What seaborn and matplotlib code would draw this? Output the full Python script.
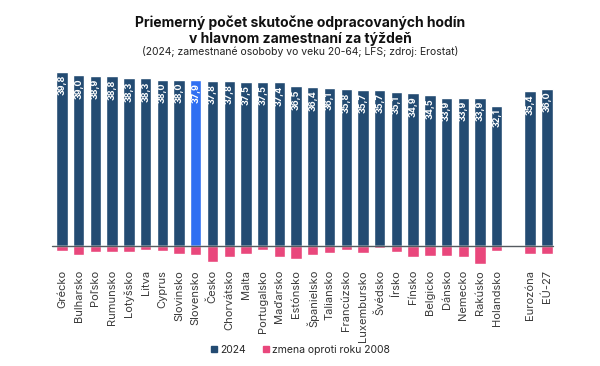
import matplotlib
matplotlib.use("Agg")
import matplotlib.pyplot as plt
import seaborn as sns
import pandas as pd
from matplotlib.lines import Line2D

countries = ["Grécko", "Bulharsko", "Poľsko", "Rumunsko", "Lotyšsko", "Litva", "Cyprus",
             "Slovinsko", "Slovensko", "Česko", "Chorvátsko", "Malta", "Portugalsko",
             "Maďarsko", "Estónsko", "Španielsko", "Taliansko", "Francúzsko", "Luxembursko",
             "Švédsko", "Írsko", "Fínsko", "Belgicko", "Dánsko", "Nemecko", "Rakúsko",
             "Holandsko", " ", "Eurozóna", "EÚ-27"]
hours_2024 = [39.8, 39.0, 38.9, 38.8, 38.3, 38.3, 38.0, 38.0, 37.9, 37.8, 37.8, 37.5, 37.5,
              37.4, 36.5, 36.4, 36.1, 35.8, 35.7, 35.7, 35.1, 34.9, 34.5, 33.9, 33.9, 33.9,
              32.1, None, 35.4, 36.0]
change_vs_2008 = [-1.2, -2.0, -1.45, -1.3, -1.3, -0.85, -1.05, -1.8, -2.0, -3.7, -2.45, -1.75,
                  -0.85, -2.6, -2.9, -2.0, -1.7, -0.9, -1.5, -0.4, -1.3, -2.4, -2.2, -2.2,
                  -2.4, -4.0, -1.1, None, -1.8, -1.8]
highlight = "Slovensko"

title = "Priemerný počet skutočne odpracovaných hodín\nv hlavnom zamestnaní za týždeň"
subtitle = "(2024; zamestnané osoboby vo veku 20-64; LFS; zdroj: Erostat)"
legend_labels = ["2024", "zmena oproti roku 2008"]

DARK = "#234b72"
HIGH = "#2f6ff2"
PINK = "#e9477c"

df = pd.DataFrame({"krajina": countries, "hodiny": hours_2024, "zmena": change_vs_2008})
data = df.dropna()

sns.set_theme(style="white")
plt.rcParams["font.family"] = ["Inter", "DejaVu Sans"]

fig = plt.figure(figsize=(6, 3.66), dpi=100)
ax = fig.add_axes([0.0, 0.2776, 1.0, 0.5402])

pal = {c: (HIGH if c == highlight else DARK) for c in countries}
sns.barplot(data=data, x="krajina", y="hodiny", hue="krajina", order=countries,
            hue_order=countries, palette=pal, width=0.68, legend=False, ax=ax,
            saturation=1, dodge=False)
sns.barplot(data=data, x="krajina", y="zmena", order=countries, color=PINK,
            width=0.68, ax=ax, saturation=1)

step = 16.72
ax.set_xlim(-62 / step, (600 - 62) / step)
ax.set_ylim(-4.2, 41)
ax.axhline(0, xmin=52 / 600, xmax=553 / 600, color="#555a60", lw=1.0, zorder=5)

for i, (c, v) in enumerate(zip(countries, hours_2024)):
    if v is None:
        continue
    ax.text(i, v - 0.7, f"{v:.1f}".replace(".", ","), rotation=90, ha="center", va="top",
            color="white", fontsize=6.5, fontweight="bold", zorder=6)

ax.set_xlabel("")
ax.set_ylabel("")
ax.set_yticks([])
ax.tick_params(axis="x", length=0, pad=4, labelsize=8, labelcolor="#3a3a3a")
ax.set_xticks(range(len(countries)))
ax.set_xticklabels(countries, rotation=90, va="top", ha="center")
for s in ax.spines.values():
    s.set_visible(False)
ax.patch.set_alpha(0)

fig.text(0.5, 0.957, title, ha="center", va="top", fontsize=10, fontweight="bold",
         color="#111111", linespacing=1.15)
fig.text(0.5, 0.86, subtitle, ha="center", va="center", fontsize=7.5, color="#222222")

handles = [Line2D([0], [0], marker="s", ls="", color=DARK, markersize=5),
           Line2D([0], [0], marker="s", ls="", color=PINK, markersize=5)]
fig.legend(handles, legend_labels, loc="center", bbox_to_anchor=(0.5, 0.045), ncol=2,
           frameon=False, fontsize=7.5, handletextpad=0.2, columnspacing=1.5,
           handlelength=0.8)

fig.savefig("out.png", dpi=100, facecolor="white")
